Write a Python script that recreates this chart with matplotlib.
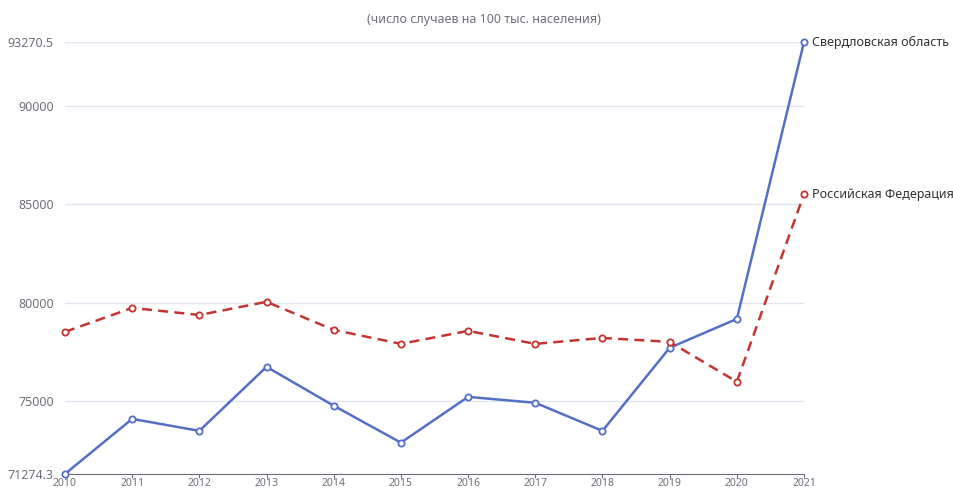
import matplotlib.pyplot as plt
import numpy as np

plt.rcParams['font.family'] = ['Noto Sans', 'DejaVu Sans']

years = [2010, 2011, 2012, 2013, 2014, 2015, 2016, 2017, 2018, 2019, 2020, 2021]
sverdlovsk = [71274.3, 74080, 73470, 76730, 74750, 72870, 75200, 74900, 73470, 77700, 79170, 93270.5]
russia = [78510, 79730, 79370, 80040, 78610, 77900, 78560, 77900, 78200, 78000, 75970, 85530]
yticks = [71274.3, 75000, 80000, 85000, 90000, 93270.5]
ytick_labels = ['71274.3', '75000', '80000', '85000', '90000', '93270.5']

blue = '#5470c6'
red = '#c23531'

fig = plt.figure(figsize=(9.54, 4.9), dpi=100)
ax = fig.add_axes([0.0681, 0.0327, 0.7747, 0.8816])

ax.plot(years, sverdlovsk, color=blue, lw=1.8, marker='o', ms=4.5,
        mfc='white', mec=blue, mew=1.3, zorder=3, clip_on=False)
ax.plot(years, russia, color=red, lw=1.8, ls=(0, (4, 2.5)), marker='o', ms=4.5,
        mfc='white', mec=red, mew=1.3, zorder=3, clip_on=False)

ax.text(years[-1] + 0.12, sverdlovsk[-1], 'Свердловская область', fontsize=9,
        color='#333333', va='center', ha='left')
ax.text(years[-1] + 0.12, russia[-1], 'Российская Федерация', fontsize=9,
        color='#333333', va='center', ha='left')

ax.set_xlim(years[0], years[-1])
ax.set_ylim(yticks[0], yticks[-1])
ax.set_xticks(years)
ax.set_xticklabels([str(y) for y in years], fontsize=7.5, color='#6e7079')
ax.set_yticks(yticks)
ax.set_yticklabels(ytick_labels, fontsize=9, color='#6e7079')

ax.grid(axis='y', color='#e0e6f1', lw=1)
ax.set_axisbelow(True)
for side in ['top', 'right', 'left']:
    ax.spines[side].set_visible(False)
ax.spines['bottom'].set_color('#6e7079')
ax.tick_params(axis='y', length=0, pad=8)
ax.tick_params(axis='x', length=3, color='#6e7079', pad=0)

fig.text(0.507, 0.96, '(число случаев на 100 тыс. населения)', ha='center',
         va='center', fontsize=9, color='#6e7079')

fig.savefig('out.png', dpi=100)
